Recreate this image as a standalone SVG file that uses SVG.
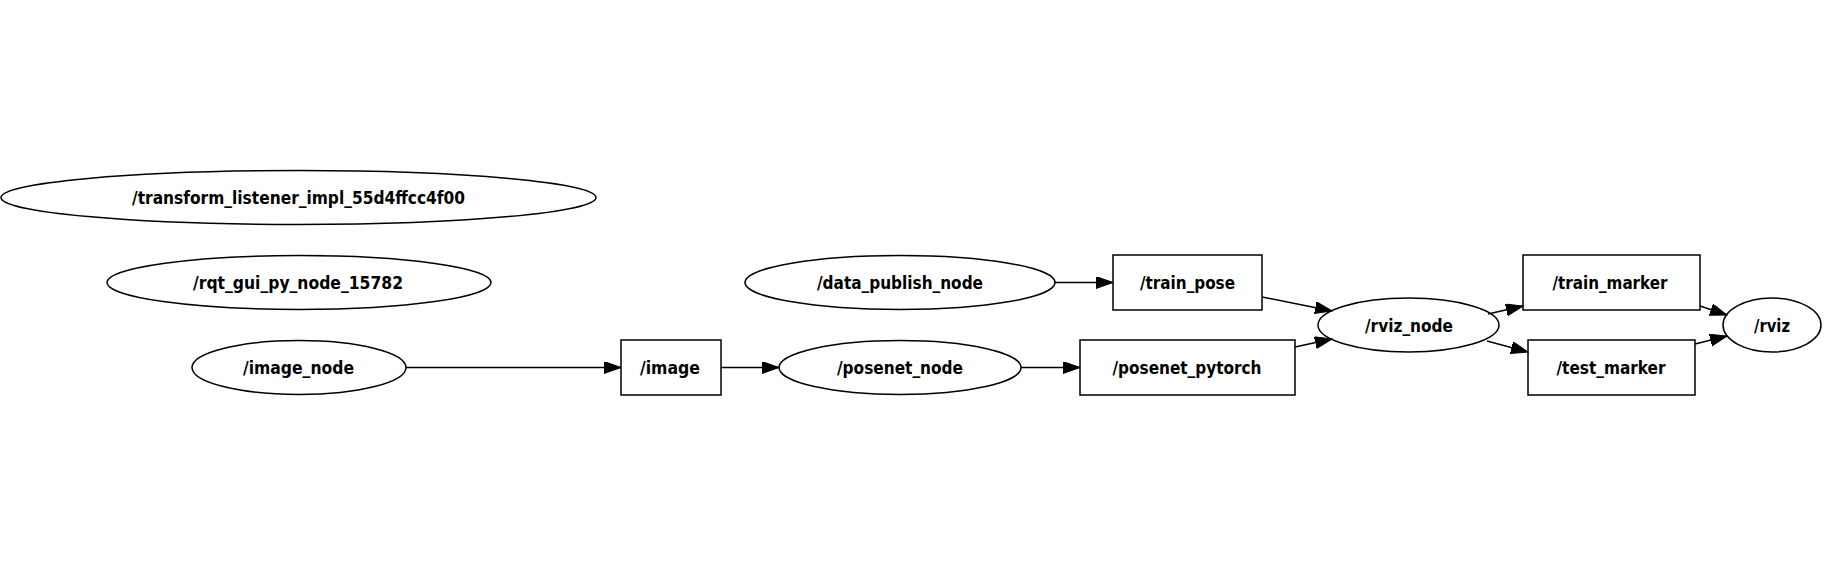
<svg xmlns="http://www.w3.org/2000/svg" width="1824" height="578" viewBox="0 0 1824 578">
<style>
.n ellipse, .n rect { fill: none; stroke: #000; stroke-width: 1.5; }
.n text { font-family: "DejaVu Sans Condensed", "DejaVu Sans", sans-serif; font-stretch: condensed; font-weight: bold; font-size: 18.5px; fill: #000; text-anchor: middle; }
#edges path { fill: none; stroke: #000; stroke-width: 1.5; marker-end: url(#arr); }
</style>
<defs>
<marker id="arr" markerUnits="userSpaceOnUse" markerWidth="19" markerHeight="14" refX="17" refY="6" orient="auto">
<path d="M0,0 L17,6 L0,12 z" fill="#000" stroke="#000" stroke-width="1"/>
</marker>
</defs>
<rect width="1824" height="578" fill="#fff"/>
<g id="edges">
<path d="M406,367.5 L621,367.5"/>
<path d="M721,367.5 L779,367.5"/>
<path d="M1021,367.5 L1080,367.5"/>
<path d="M1055,282.5 L1113,282.5"/>
<path d="M1262,297 L1332,311"/>
<path d="M1295,347 L1332,339"/>
<path d="M1488,314 L1523,306"/>
<path d="M1487,341 L1528,352"/>
<path d="M1700,306 L1727,315"/>
<path d="M1695,344 L1727,336"/>
</g>
<g id="transform_listener" class="n"><ellipse cx="298.5" cy="197.5" rx="297.5" ry="27"/><text x="298.5" y="204" textLength="333" lengthAdjust="spacingAndGlyphs">/transform_listener_impl_55d4ffcc4f00</text></g>
<g id="rqt_gui" class="n"><ellipse cx="299" cy="282.5" rx="192" ry="27"/><text x="298" y="289" textLength="210" lengthAdjust="spacingAndGlyphs">/rqt_gui_py_node_15782</text></g>
<g id="image_node" class="n"><ellipse cx="299" cy="367.5" rx="107" ry="27"/><text x="298.5" y="374" textLength="111" lengthAdjust="spacingAndGlyphs">/image_node</text></g>
<g id="image" class="n"><rect x="621" y="340" width="100" height="55"/><text x="670" y="374" textLength="60" lengthAdjust="spacingAndGlyphs">/image</text></g>
<g id="posenet_node" class="n"><ellipse cx="900" cy="367.5" rx="121" ry="27"/><text x="900" y="374" textLength="126" lengthAdjust="spacingAndGlyphs">/posenet_node</text></g>
<g id="posenet_pytorch" class="n"><rect x="1080" y="340" width="215" height="55"/><text x="1187" y="374" textLength="149" lengthAdjust="spacingAndGlyphs">/posenet_pytorch</text></g>
<g id="data_publish_node" class="n"><ellipse cx="900" cy="282.5" rx="155" ry="27"/><text x="900" y="289" textLength="166" lengthAdjust="spacingAndGlyphs">/data_publish_node</text></g>
<g id="train_pose" class="n"><rect x="1113" y="255" width="149" height="55"/><text x="1187.5" y="289" textLength="95" lengthAdjust="spacingAndGlyphs">/train_pose</text></g>
<g id="rviz_node" class="n"><ellipse cx="1408.5" cy="325" rx="90.5" ry="27"/><text x="1409" y="331.5" textLength="88" lengthAdjust="spacingAndGlyphs">/rviz_node</text></g>
<g id="train_marker" class="n"><rect x="1523" y="255" width="177" height="55"/><text x="1610" y="289" textLength="115" lengthAdjust="spacingAndGlyphs">/train_marker</text></g>
<g id="test_marker" class="n"><rect x="1528" y="340" width="167" height="55"/><text x="1611" y="374" textLength="109" lengthAdjust="spacingAndGlyphs">/test_marker</text></g>
<g id="rviz" class="n"><ellipse cx="1772" cy="325" rx="49" ry="27"/><text x="1772" y="331.5" textLength="36" lengthAdjust="spacingAndGlyphs">/rviz</text></g>
</svg>
